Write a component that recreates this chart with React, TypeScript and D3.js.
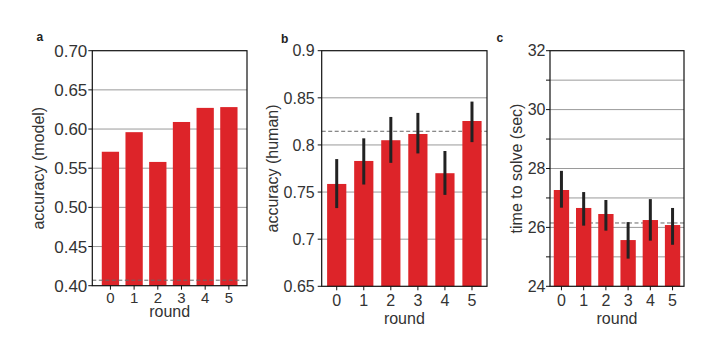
import React from "react";
import * as d3 from "d3";

const rounds = ["0", "1", "2", "3", "4", "5"];

const accModel = [0.571, 0.596, 0.558, 0.609, 0.627, 0.628];
const accModelBaseline = 0.407;

const accHuman = [0.7586, 0.783, 0.805, 0.8116, 0.770, 0.8254];
const accHumanLo = [0.733, 0.758, 0.781, 0.791, 0.747, 0.803];
const accHumanHi = [0.785, 0.807, 0.8297, 0.834, 0.7936, 0.846];
const accHumanBaseline = 0.8145;

const solveTime = [27.27, 26.66, 26.455, 25.57, 26.25, 26.08];
const solveTimeLo = [26.67, 26.06, 25.89, 24.94, 25.55, 25.41];
const solveTimeHi = [27.92, 27.2, 26.93, 26.18, 26.96, 26.66];
const solveTimeBaseline = 26.15;

const ticksA = [0.4, 0.45, 0.5, 0.55, 0.6, 0.65, 0.7];
const ticksB = [0.65, 0.7, 0.75, 0.8, 0.85, 0.9];
const ticksC = [24, 25, 26, 27, 28, 29, 30, 31, 32];

const RED = "#dd2429";
const TXT = "#333333";
const FONT = "'Liberation Sans', Arial, Helvetica, sans-serif";

type PanelProps = {
  letter: string;
  letterX: number;
  letterY: number;
  x0: number;
  x1: number;
  y0: number;
  y1: number;
  domain: [number, number];
  ticks: number[];
  labelTick: (v: number) => string | null;
  values: number[];
  lo?: number[];
  hi?: number[];
  baseline: number;
  dashOnTop: boolean;
  outer: number;
  inner: number;
  ylabel: string;
  ylabelX: number;
  yTickGap: number;
  tickFont: number;
  xTickFont: number;
  xTickY: number;
  xLabelY: number;
};

function Panel(p: PanelProps) {
  const x = d3.scaleBand<string>().domain(rounds).range([p.x0, p.x1]).paddingInner(p.inner).paddingOuter(p.outer);
  const y = d3.scaleLinear().domain(p.domain).range([p.y1, p.y0]);
  const dash = (
    <line x1={p.x0} x2={p.x1} y1={y(p.baseline)} y2={y(p.baseline)} stroke="#666" strokeWidth={1} strokeDasharray="4,2.5" />
  );
  return (
    <g>
      <text x={p.letterX} y={p.letterY} fontSize={12} fontWeight="bold" fill="#222" fontFamily={FONT}>{p.letter}</text>
      {p.ticks
        .filter((t) => t !== p.domain[0] && t !== p.domain[1])
        .map((t, i) => (
          <line key={"g" + i} x1={p.x0} x2={p.x1} y1={y(t)} y2={y(t)} stroke="#9a9a9a" strokeWidth={1} />
        ))}
      {!p.dashOnTop && dash}
      {p.values.map((v, i) => (
        <rect key={"b" + i} x={x(rounds[i])} width={x.bandwidth()} y={y(v)} height={p.y1 - y(v)} fill={RED} />
      ))}
      {p.lo &&
        p.hi &&
        p.values.map((_, i) => (
          <line
            key={"e" + i}
            x1={(x(rounds[i]) as number) + x.bandwidth() / 2}
            x2={(x(rounds[i]) as number) + x.bandwidth() / 2}
            y1={y(p.lo![i])}
            y2={y(p.hi![i])}
            stroke="#222"
            strokeWidth={3}
          />
        ))}
      {p.dashOnTop && dash}
      <rect x={p.x0} y={p.y0} width={p.x1 - p.x0} height={p.y1 - p.y0} fill="none" stroke="#111" strokeWidth={1.2} />
      {p.ticks.map((t, i) => {
        const lab = p.labelTick(t);
        return (
          <g key={"t" + i}>
            <line x1={p.x0 - 4} x2={p.x0} y1={y(t)} y2={y(t)} stroke="#111" strokeWidth={1} />
            {lab !== null && (
              <text x={p.x0 - p.yTickGap} y={y(t)} dy="0.36em" textAnchor="end" fontSize={p.tickFont} fill={TXT} fontFamily={FONT}>
                {lab}
              </text>
            )}
          </g>
        );
      })}
      {rounds.map((r, i) => {
        const cx = (x(r) as number) + x.bandwidth() / 2;
        return (
          <g key={"x" + i}>
            <line x1={cx} x2={cx} y1={p.y1} y2={p.y1 + 4} stroke="#111" strokeWidth={1} />
            <text x={cx} y={p.xTickY} textAnchor="middle" fontSize={p.xTickFont} fill={TXT} fontFamily={FONT}>{r}</text>
          </g>
        );
      })}
      <text x={(p.x0 + p.x1) / 2} y={p.xLabelY} textAnchor="middle" fontSize={16} fill={TXT} fontFamily={FONT}>round</text>
      <text
        transform={`translate(${p.ylabelX},${(p.y0 + p.y1) / 2}) rotate(-90)`}
        textAnchor="middle"
        fontSize={16}
        fill={TXT}
        fontFamily={FONT}
      >
        {p.ylabel}
      </text>
    </g>
  );
}

export default function App() {
  return (
    <svg width={706} height={339} style={{ position: "absolute", left: 0, top: 0, background: "#fff" }}>
      <Panel
        letter="a" letterX={36.5} letterY={41}
        x0={92.3} x1={247} y0={50.7} y1={285.7}
        domain={[0.4, 0.7]} ticks={ticksA}
        labelTick={(v) => v.toFixed(2)}
        values={accModel} baseline={accModelBaseline} dashOnTop={true}
        outer={0.4} inner={0.27}
        ylabel="accuracy (model)" ylabelX={44}
        yTickGap={5} tickFont={17} xTickFont={15} xTickY={302.5} xLabelY={316.5}
      />
      <Panel
        letter="b" letterX={281} letterY={43}
        x0={321.7} x1={487} y0={50.7} y1={286.3}
        domain={[0.65, 0.9]} ticks={ticksB}
        labelTick={(v) => String(+v.toFixed(2))}
        values={accHuman} lo={accHumanLo} hi={accHumanHi} baseline={accHumanBaseline} dashOnTop={false}
        outer={0.2} inner={0.29}
        ylabel="accuracy (human)" ylabelX={278}
        yTickGap={7} tickFont={16} xTickFont={16} xTickY={306} xLabelY={324}
      />
      <Panel
        letter="c" letterX={496.5} letterY={42}
        x0={550} x1={684} y0={50.7} y1={286.3}
        domain={[24, 32]} ticks={ticksC}
        labelTick={(v) => (v % 2 === 0 ? String(v) : null)}
        values={solveTime} lo={solveTimeLo} hi={solveTimeHi} baseline={solveTimeBaseline} dashOnTop={false}
        outer={0.17} inner={0.31}
        ylabel="time to solve (sec)" ylabelX={521.5}
        yTickGap={4.5} tickFont={16} xTickFont={16} xTickY={306} xLabelY={324}
      />
    </svg>
  );
}
